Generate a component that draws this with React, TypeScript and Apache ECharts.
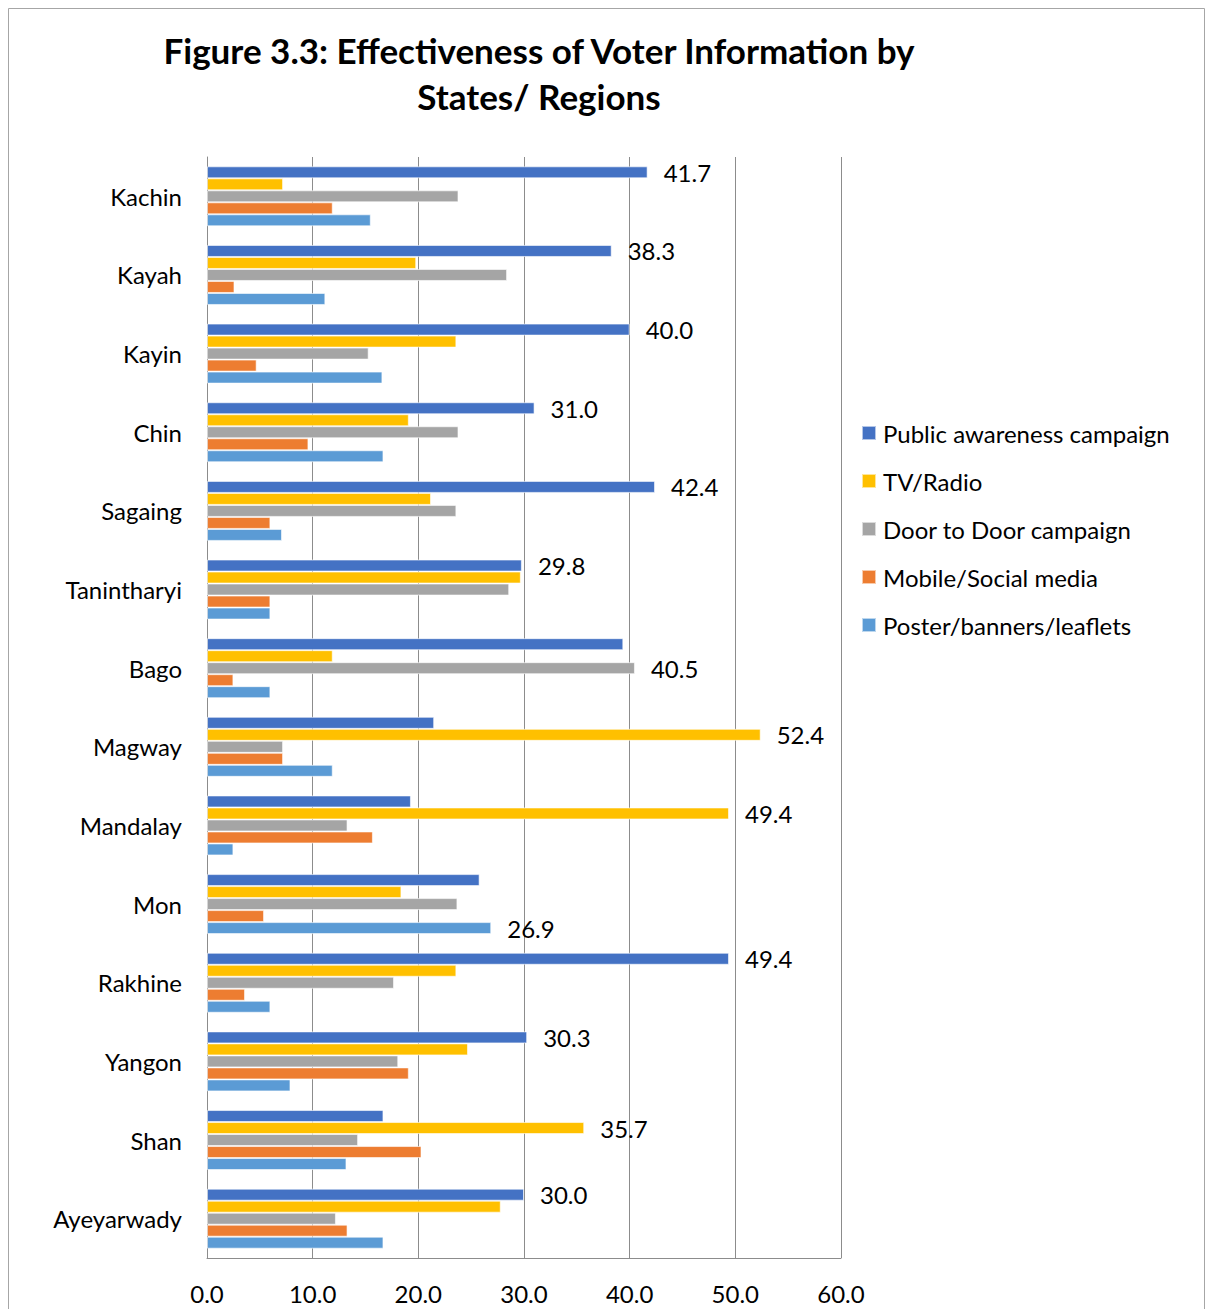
import React, { useEffect, useRef } from "react";
import * as echarts from "echarts";

const categories = [
  "Kachin", "Kayah", "Kayin", "Chin", "Sagaing", "Tanintharyi", "Bago",
  "Magway", "Mandalay", "Mon", "Rakhine", "Yangon", "Shan", "Ayeyarwady",
];
const seriesNames = [
  "Public awareness campaign",
  "TV/Radio",
  "Door to Door campaign",
  "Mobile/Social media",
  "Poster/banners/leaflets",
];
const publicAwareness = [41.7, 38.3, 40.0, 31.0, 42.4, 29.8, 39.4, 21.5, 19.3, 25.8, 49.4, 30.3, 16.7, 30.0];
const tvRadio = [7.2, 19.8, 23.6, 19.1, 21.2, 29.7, 11.9, 52.4, 49.4, 18.4, 23.6, 24.7, 35.7, 27.8];
const doorToDoor = [23.8, 28.4, 15.3, 23.8, 23.6, 28.6, 40.5, 7.2, 13.3, 23.7, 17.7, 18.1, 14.3, 12.2];
const mobileSocial = [11.9, 2.6, 4.7, 9.6, 6.0, 6.0, 2.5, 7.2, 15.7, 5.4, 3.6, 19.1, 20.3, 13.3];
const posterBanners = [15.5, 11.2, 16.6, 16.7, 7.1, 6.0, 6.0, 11.9, 2.5, 26.9, 6.0, 7.9, 13.2, 16.7];
const xTicks = [0, 10, 20, 30, 40, 50, 60];
const colors = ["#4472C4", "#FFC000", "#A5A5A5", "#ED7D31", "#5B9BD5"];

const FONT = "Lato, 'Open Sans', sans-serif";
const FS = 24;

export default function App() {
  const ref = useRef<HTMLDivElement>(null);
  useEffect(() => {
    document.body.style.margin = "0";
    if (!ref.current) return;
    const chart = echarts.init(ref.current, null, { renderer: "svg" });
    const all = [publicAwareness, tvRadio, doorToDoor, mobileSocial, posterBanners];
    const maxIdx = categories.map((_, ci) => {
      let best = 0;
      for (let s = 1; s < all.length; s++) if (all[s][ci] > all[best][ci]) best = s;
      return best;
    });
    const series = all.map((vals, si) => ({
      type: "bar",
      name: seriesNames[si],
      barWidth: 12,
      barGap: "0%",
      itemStyle: { color: colors[si], borderColor: "rgba(255,255,255,0.6)", borderWidth: 1 },
      data: vals.map((v, ci) => ({
        value: v,
        label: {
          show: maxIdx[ci] === si,
          position: "right",
          distance: 16,
          formatter: (p: any) => Number(p.value).toFixed(1),
          fontSize: FS,
          fontFamily: FONT,
          color: "#000",
        },
      })),
    }));
    chart.setOption({
      animation: false,
      textStyle: { fontFamily: FONT },
      title: {
        text: "Figure 3.3: Effectiveness of Voter Information by\nStates/ Regions",
        left: 534,
        top: 22,
        textAlign: "center",
        textStyle: { fontSize: 35, fontWeight: "bold", color: "#000", fontFamily: FONT, lineHeight: 46 },
      },
      legend: {
        orient: "vertical",
        left: 856,
        top: 416,
        itemWidth: 14,
        itemHeight: 14,
        itemGap: 24,
        icon: "rect",
        textStyle: { fontSize: FS, lineHeight: 22, color: "#000", fontFamily: FONT, padding: [0, 0, 0, 2] },
        data: seriesNames,
      },
      grid: { left: 207, right: 365, top: 157, bottom: 51 },
      xAxis: {
        type: "value",
        min: xTicks[0],
        max: xTicks[xTicks.length - 1],
        interval: 10,
        axisLine: { show: true, lineStyle: { color: "#8c8c8c" } },
        axisTick: { show: false },
        splitLine: { show: true, lineStyle: { color: "#8c8c8c", width: 1 } },
        axisLabel: { formatter: (v: number) => v.toFixed(1), fontSize: FS, color: "#000", margin: 23, fontFamily: FONT },
      },
      yAxis: {
        type: "category",
        inverse: true,
        data: categories,
        axisLine: { show: true, lineStyle: { color: "#8c8c8c" } },
        axisTick: { show: false },
        axisLabel: { fontSize: FS, color: "#000", margin: 25, fontFamily: FONT },
      },
      graphic: [
        {
          type: "rect",
          shape: { x: 8.5, y: 8.5, width: 1196, height: 1400 },
          style: { fill: "none", stroke: "#a6a6a6", lineWidth: 1 },
          silent: true,
        },
      ],
      series,
    });
    return () => chart.dispose();
  }, []);
  return <div ref={ref} style={{ width: 1206, height: 1309 }} />;
}
